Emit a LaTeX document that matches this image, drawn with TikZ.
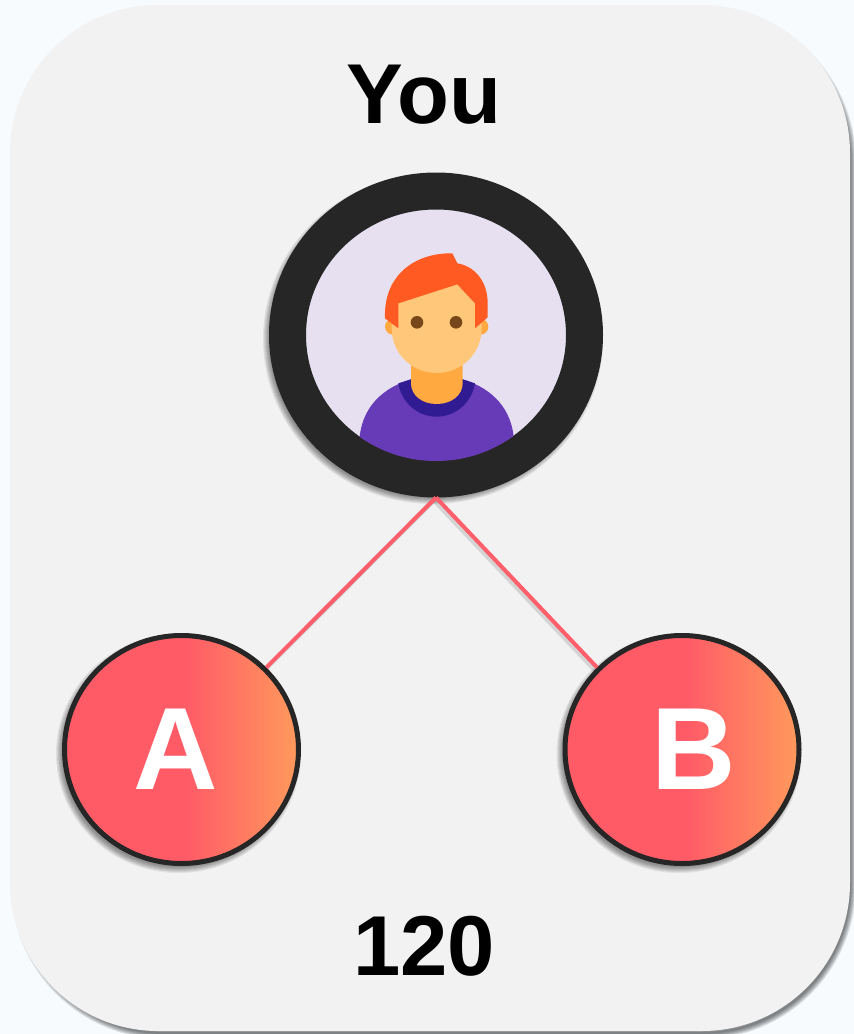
\documentclass[tikz,border=0pt]{standalone}
\usepackage{fontspec}
\setmainfont{Liberation Sans}
\usetikzlibrary{shapes.geometric}
\definecolor{pagebg}{HTML}{F7FBFE}
\definecolor{cardbg}{HTML}{F2F2F2}
\definecolor{ringc}{HTML}{262626}
\definecolor{avbg}{HTML}{E6E0F0}
\definecolor{gradA}{HTML}{FF5B67}
\definecolor{gradB}{HTML}{FF9A5C}
\definecolor{linec}{HTML}{FF5F6B}
\definecolor{hairc}{HTML}{FF5A22}
\definecolor{facec}{HTML}{FFC77A}
\definecolor{skinc}{HTML}{FFA940}
\definecolor{shirtc}{HTML}{673AB7}
\definecolor{collarc}{HTML}{311B92}
\definecolor{eyec}{HTML}{784719}
\pgfdeclarehorizontalshading{ballshade}{100bp}{color(0bp)=(gradA); color(51bp)=(gradA); color(75bp)=(gradB); color(100bp)=(gradB)}
\tikzset{
  softshadow/.style={draw=black, draw opacity=.07},
  bigtext/.style={font=\fontsize{85}{85}\selectfont\bfseries, text=black, anchor=base, inner sep=0pt, outer sep=0pt},
  balltext/.style={font=\fontsize{117}{117}\selectfont\bfseries, text=white, anchor=base, inner sep=0pt, outer sep=0pt},
  ball/.style={ellipse, draw=ringc, line width=5pt, shading=ballshade, minimum width=234pt, minimum height=228pt, inner sep=0pt},
  avatar/.style={ellipse, draw=ringc, line width=37pt, fill=avbg, minimum width=297pt, minimum height=288pt, inner sep=0pt},
  edgeline/.style={draw=linec, line width=4pt},
  edgeshadow/.style={draw=black, draw opacity=.12, line width=5pt, transform canvas={xshift=-2pt,yshift=-2.5pt}}
}
\begin{document}
\begin{tikzpicture}[x=1pt,y=-1pt]
\useasboundingbox (0,0) rectangle (854,1034);
\fill[pagebg] (0,0) rectangle (854,1034);
% card shadow
\foreach \w in {2,4,6,8,10,12}{
  \draw[softshadow, line width=\w pt, draw opacity=.1, rounded corners=148pt] (17,14) rectangle (850,1033);
}
\fill[cardbg, rounded corners=148pt] (10,5) rectangle (850,1031);
% ball and avatar shadows
\foreach \w in {2,4,6,8,10,12,14}{
  \draw[softshadow, line width=\w pt] (178.5,753.5) ellipse (115.5pt and 112.5pt);
  \draw[softshadow, line width=\w pt] (679,753.5) ellipse (115.5pt and 112.5pt);
  \draw[softshadow, line width=\w pt] (433,339) ellipse (163pt and 158pt);
}
\node[avatar] (you) at (436,335) {};
\node[ball] (a) at (181.5,749.5) {};
\node[ball] (b) at (682,749.5) {};
\draw[edgeshadow] (you.south) -- (a.44);
\draw[edgeshadow] (you.south) -- (b.136);
\draw[edgeline] (you.south) -- (a.44);
\draw[edgeline] (you.south) -- (b.136);
% person
\begin{scope}
\clip (436,335) ellipse (129.5pt and 126pt);
\begin{scope}[shift={(340,240)},x=0.33333pt,y=-0.33333pt]
\fill[shirtc] (59,590) .. controls (70,490) and (140,440) .. (213,418) -- (368,418) .. controls (440,440) and (510,490) .. (521,590) -- (521,700) -- (59,700) -- cycle;
\fill[collarc] (175,430) -- (213,418) -- (368,418) -- (405,430) .. controls (395,490) and (345,530) .. (290,530) .. controls (235,530) and (185,490) .. (175,430) -- cycle;
\fill[skinc] (213,370) -- (368,370) -- (368,430) .. controls (368,465) and (335,492) .. (290,492) .. controls (245,492) and (213,465) .. (213,430) -- cycle;
\fill[skinc] (159,260) circle (8pt);
\fill[skinc] (421,260) circle (8pt);
\fill[facec] (155,130) -- (425,130) -- (425,265) .. controls (425,340) and (365,399) .. (290,399) .. controls (215,399) and (155,340) .. (155,265) -- cycle;
\fill[hairc] (135,235) .. controls (130,110) and (220,38) .. (337,40) -- (352,70) .. controls (410,80) and (443,130) .. (443,190) -- (443,232) -- (405,265) -- (405,190) -- (352,133) -- (175,190) -- (175,265) -- cycle;
\fill[eyec] (231,247) circle (6.3pt);
\fill[eyec] (348,247) circle (6.3pt);
\end{scope}
\end{scope}
% labels
\node[bigtext] (you label) at (424,123.5) {You};
\node[bigtext] (score) at (424,975) {120};
\node[balltext] (a label) at (176,789) {A};
\node[balltext] (b label) at (694,789) {B};
\end{tikzpicture}
\end{document}
